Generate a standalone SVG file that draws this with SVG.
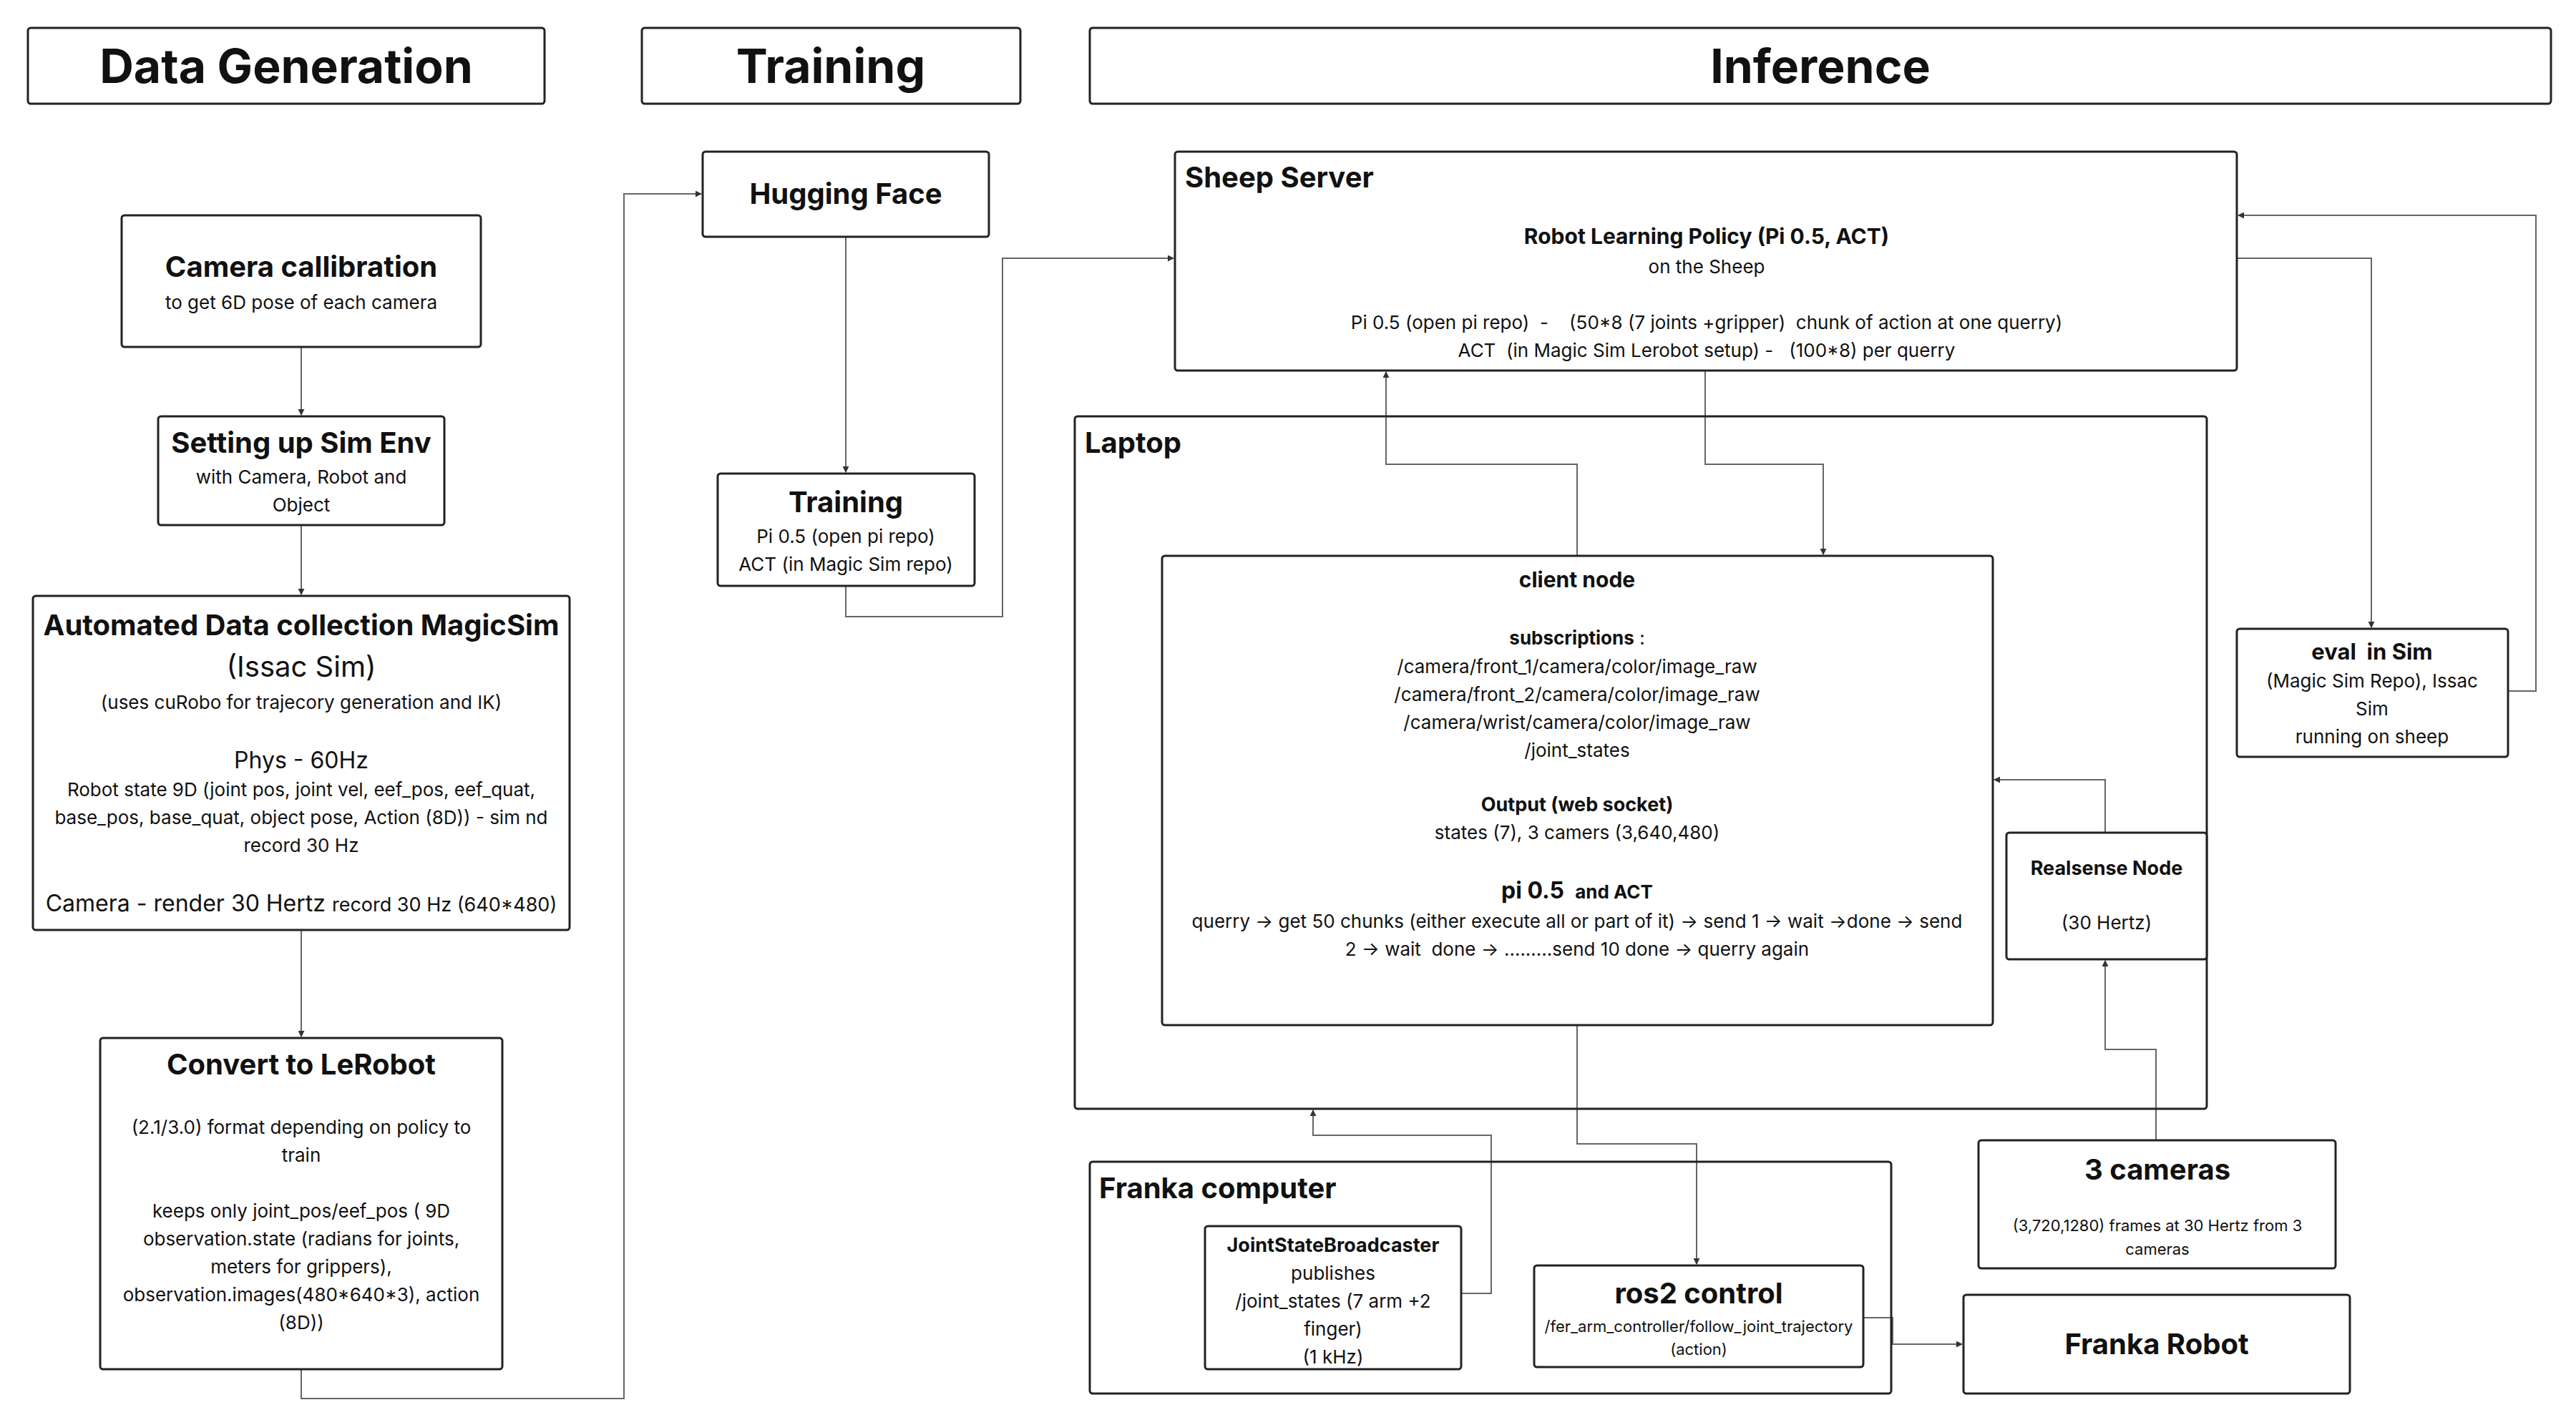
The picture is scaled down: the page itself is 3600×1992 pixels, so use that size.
<svg xmlns="http://www.w3.org/2000/svg" width="3600" height="1992" viewBox="0 0 3600 1992">
<style>
text{font-family:Inter,"Liberation Sans",sans-serif;fill:#111;text-anchor:middle}
.box{fill:#fff;stroke:#222;stroke-width:3}
.hd{font-size:66px;font-weight:700}
.t{font-size:40px;font-weight:700}
.b{font-size:27px;font-weight:700}
.r{font-size:26px}
.s{font-size:22px}
.l{text-anchor:start}
.c{fill:none;stroke:#666;stroke-width:2}
</style>
<defs>
<marker id="a" viewBox="0 0 10 10" refX="9" refY="5" markerWidth="9" markerHeight="9" markerUnits="userSpaceOnUse" orient="auto"><path d="M0,0L10,5L0,10z" fill="#333"/></marker>
</defs>
<rect width="3600" height="1992" fill="#fff"/>
<g id="hdr-data"><rect class="box" x="39" y="39" width="722" height="106" rx="4"/><text class="hd" x="400" y="116">Data Generation</text></g>
<g id="hdr-training"><rect class="box" x="897" y="39" width="529" height="106" rx="4"/><text class="hd" x="1161" y="116">Training</text></g>
<g id="hdr-inference"><rect class="box" x="1523" y="39" width="2042" height="106" rx="4"/><text class="hd" x="2544" y="116">Inference</text></g>

<g id="connectors">
<path class="c" marker-end="url(#a)" d="M421,485V580"/>
<path class="c" marker-end="url(#a)" d="M421,734V831"/>
<path class="c" marker-end="url(#a)" d="M421,1300V1449"/>
<path class="c" marker-end="url(#a)" d="M421,1914V1955H872V271H980"/>
<path class="c" marker-end="url(#a)" d="M1182,331V660"/>
<path class="c" marker-end="url(#a)" d="M1182,819V862H1401V361H1640"/>
<path class="c" marker-end="url(#a)" d="M2204,777V649H1937V520"/>
<path class="c" marker-end="url(#a)" d="M2383,518V649H2548V775"/>
<path class="c" marker-end="url(#a)" d="M3126,361H3314V877"/>
<path class="c" marker-end="url(#a)" d="M3505,966H3544V301H3128"/>
<path class="c" marker-end="url(#a)" d="M2942,1164V1090H2787"/>
<path class="c" marker-end="url(#a)" d="M3013,1594V1467H2942V1343"/>
<path class="c" marker-end="url(#a)" d="M2042,1808H2084V1587H1835V1552"/>
<path class="c" marker-end="url(#a)" d="M2204,1433V1599H2371V1767"/>
<path class="c" marker-end="url(#a)" d="M2604,1842H2645V1879H2742"/>
</g>

<g id="camera-calibration"><rect class="box" x="170" y="301" width="502" height="184" rx="4"/>
<text class="t" x="421" y="387">Camera callibration</text><text class="r" x="421" y="432">to get 6D pose of each camera</text></g>
<g id="sim-env"><rect class="box" x="221" y="582" width="400" height="152" rx="4"/>
<text class="t" x="421" y="633">Setting up Sim Env</text><text class="r" x="421" y="676">with Camera, Robot and</text><text class="r" x="421" y="715">Object</text></g>
<g id="automated"><rect class="box" x="46" y="833" width="750" height="467" rx="4"/>
<text class="t" x="421" y="888">Automated Data collection MagicSim</text>
<text x="421" y="946" style="font-size:40px">(Issac Sim)</text>
<text class="r" x="421" y="991">(uses cuRobo for trajecory generation and IK)</text>
<text x="421" y="1074" style="font-size:32px">Phys - 60Hz</text>
<text class="r" x="421" y="1113">Robot state 9D (joint pos, joint vel, eef_pos, eef_quat,</text>
<text class="r" x="421" y="1152">base_pos, base_quat, object pose, Action (8D)) - sim nd</text>
<text class="r" x="421" y="1191">record 30 Hz</text>
<text x="421" y="1274" style="font-size:32px">Camera - render 30 Hertz <tspan style="font-size:27px">record 30 Hz (640*480)</tspan></text></g>
<g id="convert"><rect class="box" x="140" y="1451" width="562" height="463" rx="4"/>
<text class="t" x="421" y="1502">Convert to LeRobot</text>
<text class="r" x="421" y="1585">(2.1/3.0) format depending on policy to</text>
<text class="r" x="421" y="1624">train</text>
<text class="r" x="421" y="1702">keeps only joint_pos/eef_pos ( 9D</text>
<text class="r" x="421" y="1741">observation.state (radians for joints,</text>
<text class="r" x="421" y="1780">meters for grippers),</text>
<text class="r" x="421" y="1819">observation.images(480*640*3), action</text>
<text class="r" x="421" y="1858">(8D))</text></g>

<g id="hugging-face"><rect class="box" x="982" y="212" width="400" height="119" rx="4"/><text class="t" x="1182" y="285">Hugging Face</text></g>
<g id="training"><rect class="box" x="1003" y="662" width="359" height="157" rx="4"/>
<text class="t" x="1182" y="716">Training</text><text class="r" x="1182" y="759">Pi 0.5 (open pi repo)</text><text class="r" x="1182" y="798">ACT (in Magic Sim repo)</text></g>

<g id="sheep-server"><rect class="box" x="1642" y="212" width="1484" height="306" rx="4"/>
<text class="t l" x="1656" y="262">Sheep Server</text>
<text x="2385" y="341" style="font-size:30px;font-weight:700">Robot Learning Policy (Pi 0.5, ACT)</text>
<text class="r" x="2385" y="382">on the Sheep</text>
<text class="r" x="2385" y="460" xml:space="preserve">Pi 0.5 (open pi repo)  -    (50*8 (7 joints +gripper)  chunk of action at one querry)</text>
<text class="r" x="2385" y="499" xml:space="preserve">ACT  (in Magic Sim Lerobot setup) -   (100*8) per querry</text></g>

<g id="laptop"><rect class="box" x="1502" y="582" width="1582" height="968" rx="4" style="fill:none"/>
<text class="t l" x="1516" y="633">Laptop</text></g>
<g id="client-node"><rect class="box" x="1624" y="777" width="1161" height="656" rx="4"/>
<text x="2204" y="821" style="font-size:30px;font-weight:700">client node</text>
<text class="r" x="2204" y="901"><tspan font-weight="700">subscriptions</tspan> :</text>
<text class="r" x="2204" y="941">/camera/front_1/camera/color/image_raw</text>
<text class="r" x="2204" y="980">/camera/front_2/camera/color/image_raw</text>
<text class="r" x="2204" y="1019">/camera/wrist/camera/color/image_raw</text>
<text class="r" x="2204" y="1058">/joint_states</text>
<text class="b" x="2204" y="1134">Output (web socket)</text>
<text class="r" x="2204" y="1173">states (7), 3 camers (3,640,480)</text>
<text x="2204" y="1256" style="font-size:32px;font-weight:700" xml:space="preserve">pi 0.5  <tspan style="font-size:26px">and ACT</tspan></text>
<text class="r" x="2204" y="1297">querry -&gt; get 50 chunks (either execute all or part of it) -&gt; send 1 -&gt; wait -&gt;done -&gt; send</text>
<text class="r" x="2204" y="1336" xml:space="preserve">2 -&gt; wait  done -&gt; .........send 10 done -&gt; querry again</text></g>
<g id="realsense"><rect class="box" x="2804" y="1164" width="280" height="177" rx="4"/>
<text class="b" x="2944" y="1223">Realsense Node</text><text class="r" x="2944" y="1299">(30 Hertz)</text></g>
<g id="eval-sim"><rect class="box" x="3126" y="879" width="379" height="179" rx="4"/>
<text x="3315" y="922" style="font-size:31px;font-weight:700" xml:space="preserve">eval  in Sim</text>
<text class="r" x="3315" y="961">(Magic Sim Repo), Issac</text><text class="r" x="3315" y="1000">Sim</text><text class="r" x="3315" y="1039">running on sheep</text></g>
<g id="three-cameras"><rect class="box" x="2765" y="1594" width="499" height="179" rx="4"/>
<text class="t" x="3015" y="1649">3 cameras</text>
<text class="s" x="3015" y="1721">(3,720,1280) frames at 30 Hertz from 3</text><text class="s" x="3015" y="1754">cameras</text></g>

<g id="franka-computer"><rect class="box" x="1523" y="1624" width="1120" height="324" rx="4" style="fill:none"/>
<text class="t l" x="1536" y="1675">Franka computer</text></g>
<g id="jsb"><rect class="box" x="1684" y="1714" width="358" height="200" rx="4"/>
<text class="b" x="1863" y="1750">JointStateBroadcaster</text>
<text class="r" x="1863" y="1789">publishes</text><text class="r" x="1863" y="1828">/joint_states (7 arm +2</text><text class="r" x="1863" y="1867">finger)</text><text class="r" x="1863" y="1906">(1 kHz)</text></g>
<g id="ros2-control"><rect class="box" x="2144" y="1769" width="460" height="142" rx="4"/>
<text class="t" x="2374" y="1822">ros2 control</text>
<text class="s" x="2374" y="1862">/fer_arm_controller/follow_joint_trajectory</text><text class="s" x="2374" y="1894">(action)</text></g>
<g id="franka-robot"><rect class="box" x="2744" y="1810" width="540" height="138" rx="4"/>
<text class="t" x="3014" y="1893">Franka Robot</text></g>
</svg>
